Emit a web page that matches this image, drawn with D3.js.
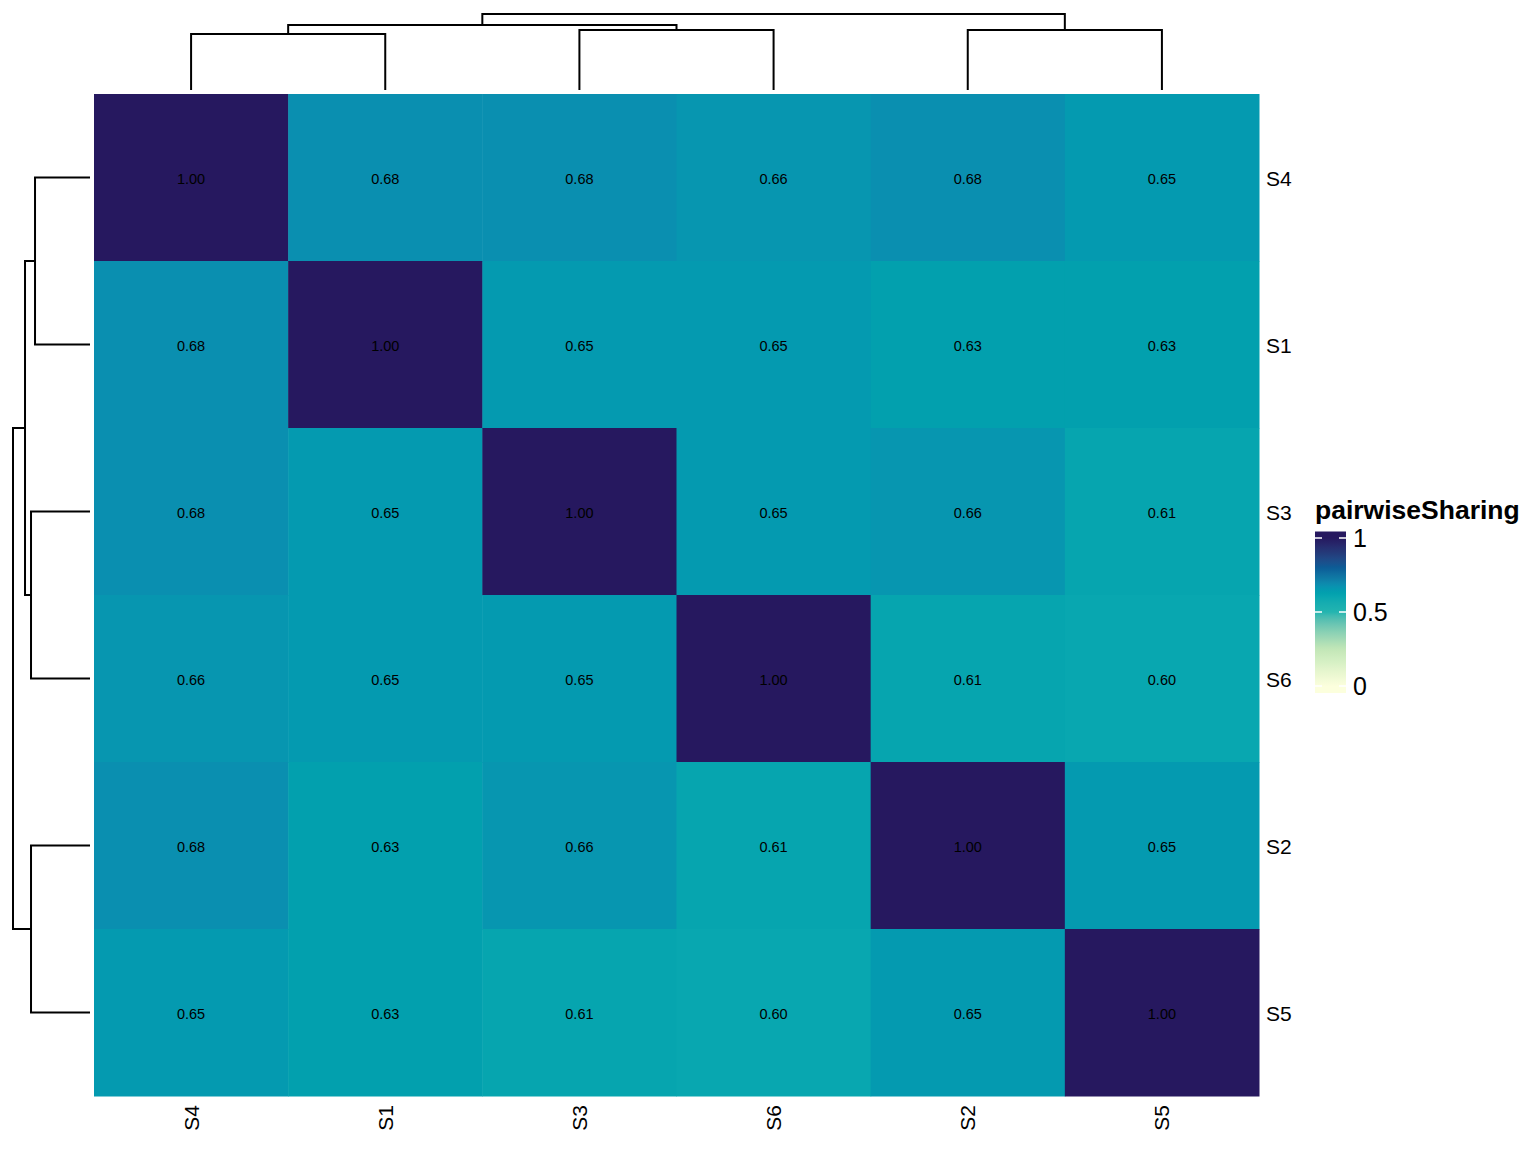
<!DOCTYPE html>
<html>
<head>
<meta charset="utf-8">
<script src="https://cdn.jsdelivr.net/npm/d3@7"></script>
<style>
  html, body { margin: 0; padding: 0; background: #fff; }
  svg { display: block; font-family: "Liberation Sans", Arial, Helvetica, sans-serif; }
</style>
</head>
<body>
<svg id="chart" width="1536" height="1152"></svg>
<script>
// ---- data ----
const samples = ["S4", "S1", "S3", "S6", "S2", "S5"];
const sharingS4 = [1.00, 0.68, 0.68, 0.66, 0.68, 0.65];
const sharingS1 = [0.68, 1.00, 0.65, 0.65, 0.63, 0.63];
const sharingS3 = [0.68, 0.65, 1.00, 0.65, 0.66, 0.61];
const sharingS6 = [0.66, 0.65, 0.65, 1.00, 0.61, 0.60];
const sharingS2 = [0.68, 0.63, 0.66, 0.61, 1.00, 0.65];
const sharingS5 = [0.65, 0.63, 0.61, 0.60, 0.65, 1.00];
const sharingRows = [sharingS4, sharingS1, sharingS3, sharingS6, sharingS2, sharingS5];
const legendTicks = [0, 0.5, 1];
const legendTitle = "pairwiseSharing";
// dendrogram (relative merge heights)
const colTree = {h: 1.0, children: [
  {h: 0.855, children: [
    {h: 0.737, children: [{name: "S4", h: 0}, {name: "S1", h: 0}]},
    {h: 0.789, children: [{name: "S3", h: 0}, {name: "S6", h: 0}]}
  ]},
  {h: 0.789, children: [{name: "S2", h: 0}, {name: "S5", h: 0}]}
]};
const rowTree = {h: 1.0, children: [
  {h: 0.844, children: [
    {h: 0.714, children: [{name: "S4", h: 0}, {name: "S1", h: 0}]},
    {h: 0.766, children: [{name: "S3", h: 0}, {name: "S6", h: 0}]}
  ]},
  {h: 0.766, children: [{name: "S2", h: 0}, {name: "S5", h: 0}]}
]};
const colorStops = [0, 0.25, 0.5, 0.6, 0.63, 0.65, 0.68, 0.8, 1];
const colorValues = ["#FCFFDD", "#C2E7B7", "#22B5B0", "#08A7B0", "#02A0AE", "#049AB0", "#0A8FB0", "#0B5C96", "#26185F"];

// ---- layout ----
const svg = d3.select("#chart");
const hmLeft = 94, hmRight = 1259, hmTop = 94, hmBottom = 1096;
const x = d3.scaleBand().domain(samples).range([hmLeft, hmRight]).padding(0);
const y = d3.scaleBand().domain(samples).range([hmTop, hmBottom]).padding(0);
const color = d3.scaleLinear().domain(colorStops).range(colorValues).interpolate(d3.interpolateLab);

const cells = [];
sharingRows.forEach((row, i) => row.forEach((v, j) => cells.push({r: samples[i], c: samples[j], v})));

svg.append("g").selectAll("rect").data(cells).join("rect")
  .attr("x", d => x(d.c)).attr("y", d => y(d.r))
  .attr("width", x.bandwidth() + 0.5).attr("height", y.bandwidth() + 0.5)
  .attr("fill", d => color(d.v));

svg.append("g").selectAll("text").data(cells).join("text")
  .attr("x", d => x(d.c) + x.bandwidth() / 2)
  .attr("y", d => y(d.r) + y.bandwidth() / 2 + 1)
  .attr("text-anchor", "middle").attr("dominant-baseline", "central")
  .attr("font-size", 14.5).attr("fill", "#000")
  .text(d => d.v.toFixed(2));

// row labels (right)
svg.append("g").selectAll("text").data(samples).join("text")
  .attr("x", hmRight + 7).attr("y", d => y(d) + y.bandwidth() / 2 + 1)
  .attr("dominant-baseline", "central").attr("font-size", 21).attr("fill", "#000")
  .text(d => d);

// column labels (bottom, rotated)
svg.append("g").selectAll("text").data(samples).join("text")
  .attr("transform", d => `translate(${x(d) + x.bandwidth() / 2},${hmBottom + 9}) rotate(-90)`)
  .attr("text-anchor", "end").attr("dominant-baseline", "central")
  .attr("font-size", 21).attr("fill", "#000")
  .text(d => d);

// ---- dendrograms ----
function drawDendro(tree, posScale, hScale, vertical) {
  const root = d3.hierarchy(tree);
  root.eachAfter(n => {
    if (!n.children) n.pos = posScale(n.data.name) + posScale.bandwidth() / 2;
    else n.pos = (n.children[0].pos + n.children[1].pos) / 2;
  });
  const g = svg.append("g").attr("fill", "none").attr("stroke", "#000").attr("stroke-width", 2);
  root.each(n => {
    if (!n.children) return;
    const [a, b] = n.children;
    const pts = [[a.pos, hScale(a.data.h)], [a.pos, hScale(n.data.h)], [b.pos, hScale(n.data.h)], [b.pos, hScale(b.data.h)]];
    const p = vertical ? pts : pts.map(([u, v]) => [v, u]);
    g.append("path").attr("d", d3.line()(p));
  });
}
drawDendro(colTree, x, d3.scaleLinear().domain([0, 1]).range([90, 14]), true);
drawDendro(rowTree, y, d3.scaleLinear().domain([0, 1]).range([90, 13]), false);

// ---- legend ----
const lgX = 1315, lgW = 31;
const lgScale = d3.scaleLinear().domain([0, 1]).range([686, 538]);
const defs = svg.append("defs");
const grad = defs.append("linearGradient").attr("id", "lg").attr("x1", 0).attr("y1", 1).attr("x2", 0).attr("y2", 0);
const barTop = 531.5, barBot = 693;
d3.range(0, 1.0001, 0.02).forEach(t => {
  const v = lgScale.invert(barBot + (barTop - barBot) * t);
  grad.append("stop").attr("offset", t).attr("stop-color", color(Math.max(0, Math.min(1, v))));
});
svg.append("rect").attr("x", lgX).attr("y", barTop).attr("width", lgW).attr("height", barBot - barTop).attr("fill", "url(#lg)");
const lt = svg.append("g");
legendTicks.forEach(t => {
  lt.append("line").attr("x1", lgX).attr("x2", lgX + 7).attr("y1", lgScale(t)).attr("y2", lgScale(t)).attr("stroke", "#fff").attr("stroke-width", 1.5);
  lt.append("line").attr("x1", lgX + lgW - 7).attr("x2", lgX + lgW).attr("y1", lgScale(t)).attr("y2", lgScale(t)).attr("stroke", "#fff").attr("stroke-width", 1.5);
  lt.append("text").attr("x", lgX + lgW + 7).attr("y", lgScale(t)).attr("dominant-baseline", "central")
    .attr("font-size", 25).attr("fill", "#000").text(t);
});
svg.append("text").attr("x", lgX).attr("y", 519).attr("font-size", 26.5).attr("font-weight", "bold").attr("fill", "#000").text(legendTitle);
</script>
</body>
</html>
